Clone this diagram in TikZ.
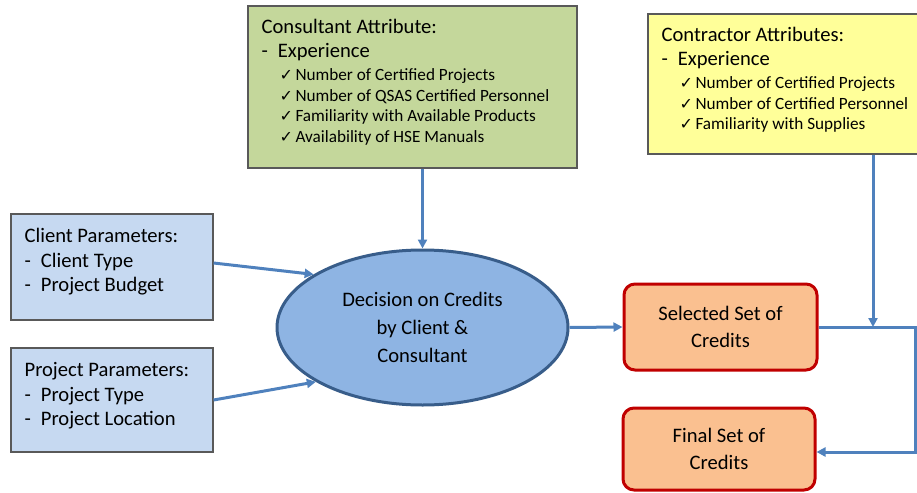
\documentclass[tikz,border=0pt]{standalone}
\usepackage{fontspec}
\setmainfont{Carlito}
\newfontfamily\checkfont{DejaVu Sans}
\usetikzlibrary{shapes.geometric, arrows.meta, positioning}

\definecolor{flowblue}{HTML}{4F81BD}
\definecolor{greenfill}{HTML}{C4D79B}
\definecolor{yellowfill}{HTML}{FFFF99}
\definecolor{paramfill}{HTML}{C6D9F1}
\definecolor{ellfill}{HTML}{8EB4E3}
\definecolor{elldraw}{HTML}{385D8A}
\definecolor{credfill}{HTML}{FAC090}
\definecolor{credred}{HTML}{C00000}

\newcommand{\chkline}[1]{\hspace*{18pt}{\checkfont\fontsize{16}{16}\selectfont ✓}\hspace{2.5pt}{\fontsize{17.2}{20}\selectfont #1}}

\tikzset{
  attrbox/.style={rectangle, draw=black!65, line width=1.2pt, inner sep=0pt},
  boxtext/.style={anchor=north west, align=left, inner sep=0pt, font=\fontsize{20.6}{24}\selectfont},
  credbox/.style={rectangle, rounded corners=11pt, draw=credred, fill=credfill, line width=3pt,
    inner sep=0pt, align=center, font=\fontsize{20.6}{27}\selectfont},
  flow/.style={draw=flowblue, line width=3pt, -{Triangle[length=9pt, width=9pt]}}
}

\begin{document}
\begin{tikzpicture}[x=1pt, y=-1pt]
  \clip (0,0) rectangle (917,492);

  % attribute and parameter boxes
  \node[attrbox, fill=greenfill, minimum width=329, minimum height=162] (cons) at (412.5,87) {};
  \node[attrbox, fill=yellowfill, minimum width=274, minimum height=140] (contr) at (785,84) {};
  \node[attrbox, fill=paramfill, minimum width=202, minimum height=106] (client) at (112,267) {};
  \node[attrbox, fill=paramfill, minimum width=202, minimum height=104] (proj) at (112,400) {};

  \node[boxtext] (constext) at ([xshift=14pt, yshift=-14pt]cons.north west) {%
    Consultant Attribute:\\
    -\hspace{10pt}Experience\\[-1pt]
    \chkline{Number of Certified Projects}\\[-3.5pt]
    \chkline{Number of QSAS Certified Personnel}\\[-3.5pt]
    \chkline{Familiarity with Available Products}\\[-3.5pt]
    \chkline{Availability of HSE Manuals}};
  \node[boxtext] (contrtext) at ([xshift=14pt, yshift=-14pt]contr.north west) {%
    Contractor Attributes:\\
    -\hspace{10pt}Experience\\[-1pt]
    \chkline{Number of Certified Projects}\\[-3.5pt]
    \chkline{Number of Certified Personnel}\\[-3.5pt]
    \chkline{Familiarity with Supplies}};
  \node[boxtext] (clienttext) at ([xshift=14pt, yshift=-15pt]client.north west) {%
    Client Parameters:\\[0.5pt]
    -\hspace{10pt}Client Type\\[0.5pt]
    -\hspace{10pt}Project Budget};
  \node[boxtext] (projtext) at ([xshift=14pt, yshift=-15pt]proj.north west) {%
    Project Parameters:\\[0.5pt]
    -\hspace{10pt}Project Type\\[0.5pt]
    -\hspace{10pt}Project Location};

  % decision and credits
  \node[ellipse, draw=elldraw, fill=ellfill, line width=3pt, minimum width=291, minimum height=155,
    inner sep=0pt, align=center, font=\fontsize{20.6}{28}\selectfont] (dec) at (422.5,327.5)
    {Decision on Credits\\by Client \&\\Consultant};
  \node[credbox, minimum width=193, minimum height=86] (sel) at (720.5,327) {Selected Set of\\Credits};
  \node[credbox, minimum width=192, minimum height=82] (fin) at (719,449) {Final Set of\\Credits};

  \coordinate (turn) at (915,400);
  \coordinate (join) at (873,327);

  % connectors
  \draw[flow] (dec.north |- cons.south) -- (dec.north);
  \draw[flow] ([yshift=4pt]client.east) -- (dec.154.6);
  \draw[flow] (proj.east) -- (dec.207);
  \draw[flow] (dec.east) -- (sel.west);
  \draw[flow] (sel.east) -| (turn) |- ([yshift=-3pt]fin.east);
  \draw[flow] (join |- contr.south) -- (join);
\end{tikzpicture}
\end{document}
